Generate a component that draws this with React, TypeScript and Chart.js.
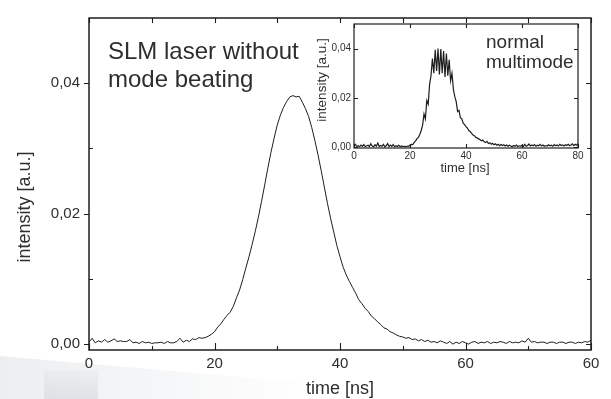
import React, { useEffect, useRef } from "react";
import { Chart, registerables } from "chart.js";

Chart.register(...registerables);

// ---------- data ----------
const timeNs = [
  0, 0.5, 1, 1.5, 2, 2.5, 3, 3.5, 4, 4.5,
  5, 5.5, 6, 6.5, 7, 7.5, 8, 8.5, 9, 9.5,
  10, 10.5, 11, 11.5, 12, 12.5, 13, 13.5, 14, 14.5,
  15, 15.5, 16, 16.5, 17, 17.5, 18, 18.5, 19, 19.5,
  20, 20.5, 21, 21.5, 22, 22.5, 23, 23.5, 24, 24.5,
  25, 25.5, 26, 26.5, 27, 27.5, 28, 28.5, 29, 29.5,
  30, 30.5, 31, 31.5, 32, 32.5, 33, 33.5, 34, 34.5,
  35, 35.5, 36, 36.5, 37, 37.5, 38, 38.5, 39, 39.5,
  40, 40.5, 41, 41.5, 42, 42.5, 43, 43.5, 44, 44.5,
  45, 45.5, 46, 46.5, 47, 47.5, 48, 48.5, 49, 49.5,
  50, 50.5, 51, 51.5, 52, 52.5, 53, 53.5, 54, 54.5,
  55, 55.5, 56, 56.5, 57, 57.5, 58, 58.5, 59, 59.5,
  60, 60.5, 61, 61.5, 62, 62.5, 63, 63.5, 64, 64.5,
  65, 65.5, 66, 66.5, 67, 67.5, 68, 68.5, 69, 69.5,
  70, 70.5, 71, 71.5, 72, 72.5, 73, 73.5, 74, 74.5,
  75, 75.5, 76, 76.5, 77, 77.5, 78, 78.5, 79, 79.5,
  80,
];

// SLM laser without mode beating (main plot)
const mainIntensity = [
  0.0003, 0.0009, 0.0002, 0.0005, 0.0003, 0.0007, 0.0003, 0.0005, 0.0008, 0.0004,
  0.0005, 0.0004, 0.0004, 0.0007, 0.0002, 0.0003, 0.0001, 0.0004, 0.0002, 0.0003,
  0.0001, 0.0002, 0.0002, 0.0003, 0.0001, 0.0004, 0.0002, 0.0002, 0.0004, 0.0009,
  0.0003, 0.0006, 0.0004, 0.0008, 0.0007, 0.0010, 0.0009, 0.0010, 0.0012, 0.0015,
  0.0019, 0.0026, 0.0031, 0.0038, 0.0044, 0.0049, 0.0058, 0.0071, 0.0083, 0.0099,
  0.0117, 0.0134, 0.0153, 0.0173, 0.0195, 0.0219, 0.0244, 0.0270, 0.0294, 0.0316,
  0.0336, 0.0351, 0.0363, 0.0372, 0.0379, 0.0381, 0.0379, 0.0380, 0.0371, 0.0361,
  0.0349, 0.0332, 0.0312, 0.0290, 0.0266, 0.0241, 0.0216, 0.0193, 0.0172, 0.0151,
  0.0134, 0.0118, 0.0106, 0.0096, 0.0087, 0.0078, 0.0068, 0.0062, 0.0055, 0.0050,
  0.0043, 0.0039, 0.0034, 0.0030, 0.0025, 0.0023, 0.0019, 0.0017, 0.0014, 0.0012,
  0.0011, 0.0009, 0.0010, 0.0007, 0.0008, 0.0005, 0.0007, 0.0004, 0.0006, 0.0003,
  0.0004, 0.0002, 0.0005, 0.0003, 0.0001, 0.0004, 0.0000, 0.0003, 0.0001, 0.0004,
  0.0002, 0.0000, 0.0003, 0.0004, 0.0001, 0.0003, 0.0002, 0.0004, 0.0001, 0.0003,
  0.0002, 0.0004, 0.0003, 0.0001, 0.0004, 0.0002, 0.0003, 0.0002, 0.0005, 0.0003,
  0.0009, 0.0003, 0.0004, 0.0002, 0.0003, 0.0003, 0.0001, 0.0003, 0.0003, 0.0001,
  0.0003, 0.0003, 0.0001, 0.0003, 0.0003, 0.0001, 0.0003, 0.0002, 0.0004, 0.0003,
  0.0006,
];

// normal multimode (inset)
const insetIntensity = [
  0.0004, 0.0012, 0.0003, 0.0006, 0.0002, 0.0009, 0.0004, 0.0011, 0.0003, 0.0005,
  0.0008, 0.0003, 0.0014, 0.0005, 0.0002, 0.0010, 0.0004, 0.0017, 0.0003, 0.0007,
  0.0004, 0.0012, 0.0002, 0.0006, 0.0015, 0.0003, 0.0009, 0.0004, 0.0011, 0.0002,
  0.0006, 0.0003, 0.0008, 0.0002, 0.0005, 0.0003, 0.0004, 0.0002, 0.0005, 0.0004,
  0.0008, 0.0012, 0.0011, 0.0020, 0.0026, 0.0035, 0.0040, 0.0052, 0.0068, 0.0090,
  0.0135, 0.0115, 0.0190, 0.0175, 0.0255, 0.0290, 0.0360, 0.0300, 0.0395, 0.0310,
  0.0400, 0.0295, 0.0398, 0.0300, 0.0390, 0.0285, 0.0380, 0.0290, 0.0355, 0.0270,
  0.0300, 0.0235, 0.0205, 0.0185, 0.0145, 0.0150, 0.0120, 0.0115, 0.0098, 0.0092,
  0.0084, 0.0078, 0.0068, 0.0064, 0.0056, 0.0050, 0.0047, 0.0040, 0.0038, 0.0034,
  0.0031, 0.0026, 0.0029, 0.0022, 0.0019, 0.0024, 0.0015, 0.0018, 0.0012, 0.0016,
  0.0010, 0.0014, 0.0008, 0.0012, 0.0006, 0.0011, 0.0007, 0.0010, 0.0005, 0.0009,
  0.0004, 0.0008, 0.0005, 0.0002, 0.0007, 0.0004, 0.0009, 0.0003, 0.0006, 0.0004,
  0.0008, 0.0003, 0.0012, 0.0004, 0.0007, 0.0013, 0.0005, 0.0009, 0.0006, 0.0011,
  0.0004, 0.0008, 0.0006, 0.0012, 0.0005, 0.0009, 0.0004, 0.0007, 0.0005, 0.0010,
  0.0006, 0.0008, 0.0004, 0.0011, 0.0006, 0.0009, 0.0005, 0.0012, 0.0007, 0.0009,
  0.0005, 0.0010, 0.0007, 0.0012, 0.0006, 0.0009, 0.0014, 0.0007, 0.0012, 0.0008,
  0.0016,
];

const mainXTicks = [0, 20, 40, 60, 80];
const mainXTickLabels = ["0", "20", "40", "60", "60"];
const mainXMinor = [10, 30, 50, 70];
const mainYTicks = [0, 0.02, 0.04];
const mainYTickLabels = ["0,00", "0,02", "0,04"];
const mainYMinor = [0.01, 0.03];

const insetXTicks = [0, 20, 40, 60, 80];
const insetXTickLabels = ["0", "20", "40", "60", "80"];
const insetYTicks = [0, 0.02, 0.04];
const insetYTickLabels = ["0,00", "0,02", "0,04"];

const FONT = "'Liberation Sans', Arial, Helvetica, sans-serif";
const INK = "#1e1e1e";
const TEXT = "#2e2e2e";

type TextItem = { text: string; x: number; y: number; size: number; align?: CanvasTextAlign; rotate?: boolean };

function framePlugin(cfg: {
  xMajor: number[]; xMinor: number[]; yMajor: number[]; yMinor: number[];
  bottomMajor: number; bottomMinor: number; topMajor: number; topMinor: number;
  leftMajor: number; leftMinor: number; rightMajor: number; rightMinor: number;
  frameWidth: number; texts: TextItem[]; watermark?: boolean;
}) {
  return {
    id: "frameTicks",
    beforeDraw(chart: any) {
      if (!cfg.watermark) return;
      const ctx = chart.ctx as CanvasRenderingContext2D;
      ctx.save();
      const g = ctx.createLinearGradient(0, 0, 320, 0);
      g.addColorStop(0, "rgba(200,206,212,0.35)");
      g.addColorStop(1, "rgba(200,206,212,0)");
      ctx.fillStyle = g;
      ctx.beginPath();
      ctx.moveTo(0, 356);
      ctx.lineTo(320, 384);
      ctx.lineTo(320, 399);
      ctx.lineTo(0, 399);
      ctx.closePath();
      ctx.fill();
      const g2 = ctx.createLinearGradient(0, 370, 0, 399);
      g2.addColorStop(0, "rgba(190,197,204,0.08)");
      g2.addColorStop(1, "rgba(190,197,204,0.35)");
      ctx.fillStyle = g2;
      ctx.fillRect(44, 370, 54, 29);
      ctx.restore();
    },
    afterDraw(chart: any) {
      const ctx = chart.ctx as CanvasRenderingContext2D;
      const { left, right, top, bottom } = chart.chartArea;
      const x = chart.scales.x;
      const y = chart.scales.y;
      ctx.save();
      ctx.strokeStyle = INK;
      ctx.lineWidth = cfg.frameWidth;
      ctx.strokeRect(left, top, right - left, bottom - top);
      ctx.lineWidth = 1.1;
      ctx.beginPath();
      const vx = (vals: number[], bl: number, tl: number) => {
        for (const v of vals) {
          const px = Math.round(x.getPixelForValue(v)) + 0.5;
          if (bl) { ctx.moveTo(px, bottom); ctx.lineTo(px, bottom - bl); }
          if (tl) { ctx.moveTo(px, top); ctx.lineTo(px, top + tl); }
        }
      };
      const vy = (vals: number[], ll: number, rl: number) => {
        for (const v of vals) {
          const py = Math.round(y.getPixelForValue(v)) + 0.5;
          if (ll) { ctx.moveTo(left, py); ctx.lineTo(left + ll, py); }
          if (rl) { ctx.moveTo(right, py); ctx.lineTo(right - rl, py); }
        }
      };
      vx(cfg.xMajor, cfg.bottomMajor, cfg.topMajor);
      vx(cfg.xMinor, cfg.bottomMinor, cfg.topMinor);
      vy(cfg.yMajor, cfg.leftMajor, cfg.rightMajor);
      vy(cfg.yMinor, cfg.leftMinor, cfg.rightMinor);
      ctx.stroke();

      ctx.fillStyle = TEXT;
      ctx.textBaseline = "middle";
      for (const t of cfg.texts) {
        ctx.font = `${t.size}px ${FONT}`;
        ctx.textAlign = t.align ?? "center";
        if (t.rotate) {
          ctx.save();
          ctx.translate(t.x, t.y);
          ctx.rotate(-Math.PI / 2);
          ctx.fillText(t.text, 0, 0);
          ctx.restore();
        } else {
          ctx.fillText(t.text, t.x, t.y);
        }
      }
      ctx.restore();
    },
  };
}

function makeChart(
  canvas: HTMLCanvasElement,
  values: number[],
  o: {
    yMin: number; yMax: number; xTicks: number[]; xLabels: string[]; yTicks: number[]; yLabels: string[];
    tickSize: number; padTop: number; padRight: number; yWidth: number; xHeight: number;
    xPad: number; yPad: number; lineWidth: number; plugin: any;
  }
) {
  return new Chart(canvas, {
    type: "line",
    data: {
      datasets: [
        {
          data: timeNs.map((t, i) => ({ x: t, y: values[i] })),
          borderColor: INK,
          borderWidth: o.lineWidth,
          pointRadius: 0,
          tension: 0,
          fill: false,
        },
      ],
    },
    options: {
      animation: false,
      responsive: false,
      devicePixelRatio: 1,
      layout: { padding: { top: o.padTop, right: o.padRight, left: 0, bottom: 0 } },
      plugins: { legend: { display: false }, tooltip: { enabled: false } },
      scales: {
        x: {
          type: "linear",
          min: 0,
          max: 80,
          afterBuildTicks: (s: any) => { s.ticks = o.xTicks.map((v) => ({ value: v })); },
          afterFit: (s: any) => { s.height = o.xHeight; },
          ticks: {
            callback: (_v: any, i: number) => o.xLabels[i],
            font: { family: FONT, size: o.tickSize },
            color: TEXT,
            padding: o.xPad,
            maxRotation: 0,
            autoSkip: false,
          },
          grid: { display: false, drawTicks: false },
          border: { display: false },
        },
        y: {
          type: "linear",
          min: o.yMin,
          max: o.yMax,
          afterBuildTicks: (s: any) => { s.ticks = o.yTicks.map((v) => ({ value: v })); },
          afterFit: (s: any) => { s.width = o.yWidth; },
          ticks: {
            callback: (_v: any, i: number) => o.yLabels[i],
            font: { family: FONT, size: o.tickSize },
            color: TEXT,
            padding: o.yPad,
            autoSkip: false,
          },
          grid: { display: false, drawTicks: false },
          border: { display: false },
        },
      },
    } as any,
    plugins: [o.plugin],
  });
}

export default function App() {
  const mainRef = useRef<HTMLCanvasElement>(null);
  const insetRef = useRef<HTMLCanvasElement>(null);

  useEffect(() => {
    document.body.style.margin = "0";
    const main = makeChart(mainRef.current!, mainIntensity, {
      yMin: -0.0009, yMax: 0.05,
      xTicks: mainXTicks, xLabels: mainXTickLabels,
      yTicks: mainYTicks, yLabels: mainYTickLabels,
      tickSize: 15, padTop: 13, padRight: 20, yWidth: 89, xHeight: 49,
      xPad: 5, yPad: 9, lineWidth: 1,
      plugin: framePlugin({
        xMajor: mainXTicks, xMinor: mainXMinor, yMajor: mainYTicks, yMinor: mainYMinor,
        bottomMajor: 7, bottomMinor: 4, topMajor: 5, topMinor: 5,
        leftMajor: -5, leftMinor: 4, rightMajor: 5, rightMinor: 4,
        frameWidth: 1.5, watermark: true,
        texts: [
          { text: "SLM laser without", x: 108, y: 52, size: 24, align: "left" },
          { text: "mode beating", x: 108, y: 80, size: 24, align: "left" },
          { text: "intensity [a.u.]", x: 25, y: 207, size: 18, rotate: true },
          { text: "time [ns]", x: 340, y: 389, size: 18 },
        ],
      }),
    });
    const inset = makeChart(insetRef.current!, insetIntensity, {
      yMin: -0.0003, yMax: 0.05,
      xTicks: insetXTicks, xLabels: insetXTickLabels,
      yTicks: insetYTicks, yLabels: insetYTickLabels,
      tickSize: 10, padTop: 3, padRight: 12, yWidth: 54, xHeight: 29,
      xPad: 2, yPad: 3, lineWidth: 1.2,
      plugin: framePlugin({
        xMajor: insetXTicks, xMinor: [], yMajor: insetYTicks, yMinor: [],
        bottomMajor: 4, bottomMinor: 0, topMajor: 4, topMinor: 0,
        leftMajor: 4, leftMinor: 0, rightMajor: 4, rightMinor: 0,
        frameWidth: 1.2,
        texts: [
          { text: "normal", x: 186, y: 28, size: 19, align: "left" },
          { text: "multimode", x: 186, y: 48, size: 19, align: "left" },
          { text: "intensity [a.u.]", x: 22, y: 65, size: 13.5, rotate: true },
          { text: "time [ns]", x: 165, y: 153, size: 13 },
        ],
      }),
    });
    return () => {
      main.destroy();
      inset.destroy();
    };
  }, []);

  return (
    <div style={{ position: "absolute", left: 0, top: 0, width: 611, height: 399, background: "#fff" }}>
      <canvas ref={mainRef} width={611} height={399} style={{ position: "absolute", left: 0, top: 0 }} />
      <canvas ref={insetRef} width={290} height={162} style={{ position: "absolute", left: 300, top: 15 }} />
    </div>
  );
}
